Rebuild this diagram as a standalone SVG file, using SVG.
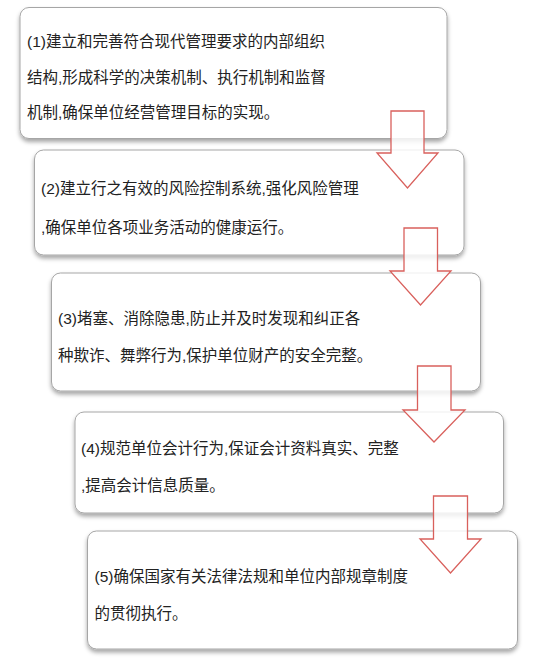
<svg xmlns="http://www.w3.org/2000/svg" width="539" height="665" viewBox="0 0 539 665">
<defs>
<filter id="sh" x="-5%" y="-10%" width="110%" height="130%">
<feDropShadow dx="0" dy="3" stdDeviation="2" flood-color="#000" flood-opacity="0.35"/>
</filter>
<style>
.box{fill:#fff;stroke:#a6a6a6;stroke-width:1;filter:url(#sh)}
.t{font-family:"Liberation Sans","Noto Sans CJK SC",sans-serif;font-size:15.5px;fill:#222}
.arr{fill:#fff;fill-opacity:0.82;stroke:#d9605c;stroke-width:1.3;stroke-linejoin:miter}
</style>
</defs>
<rect width="539" height="665" fill="#fff"/>
<g id="node1">
<rect class="box" x="20" y="7.5" width="427" height="131" rx="9"/>
<text class="t" x="27" y="47">(1)建立和完善符合现代管理要求的内部组织</text>
<text class="t" x="27" y="82.5">结构,形成科学的决策机制、执行机制和监督</text>
<text class="t" x="27" y="118">机制,确保单位经营管理目标的实现。</text>
</g>
<g id="node2">
<rect class="box" x="34.5" y="150" width="429.5" height="105" rx="9"/>
<text class="t" x="41" y="194">(2)建立行之有效的风险控制系统,强化风险管理</text>
<text class="t" x="41" y="233">,确保单位各项业务活动的健康运行。</text>
</g>
<g id="node3">
<rect class="box" x="51.5" y="273" width="429" height="118" rx="9"/>
<text class="t" x="58" y="324">(3)堵塞、消除隐患,防止并及时发现和纠正各</text>
<text class="t" x="58" y="361">种欺诈、舞弊行为,保护单位财产的安全完整。</text>
</g>
<g id="node4">
<rect class="box" x="75" y="412" width="428.5" height="101" rx="9"/>
<text class="t" x="81" y="454">(4)规范单位会计行为,保证会计资料真实、完整</text>
<text class="t" x="81" y="491">,提高会计信息质量。</text>
</g>
<g id="node5">
<rect class="box" x="87.5" y="531" width="430" height="118" rx="9"/>
<text class="t" x="94.5" y="582">(5)确保国家有关法律法规和单位内部规章制度</text>
<text class="t" x="94.5" y="619">的贯彻执行。</text>
</g>
<g id="connectors">
<polygon class="arr" points="391,111 424,111 424,153 438,153 407.5,188 377,153 391,153"/>
<polygon class="arr" points="404,228 437.5,228 437.5,271 451,271 420.5,305 390,271 404,271"/>
<polygon class="arr" points="417.5,366 451,366 451,410 465,410 434,442 403,410 417.5,410"/>
<polygon class="arr" points="433.5,496 467.5,496 467.5,539 481,539 450.5,573 420,539 433.5,539"/>
</g>
</svg>
